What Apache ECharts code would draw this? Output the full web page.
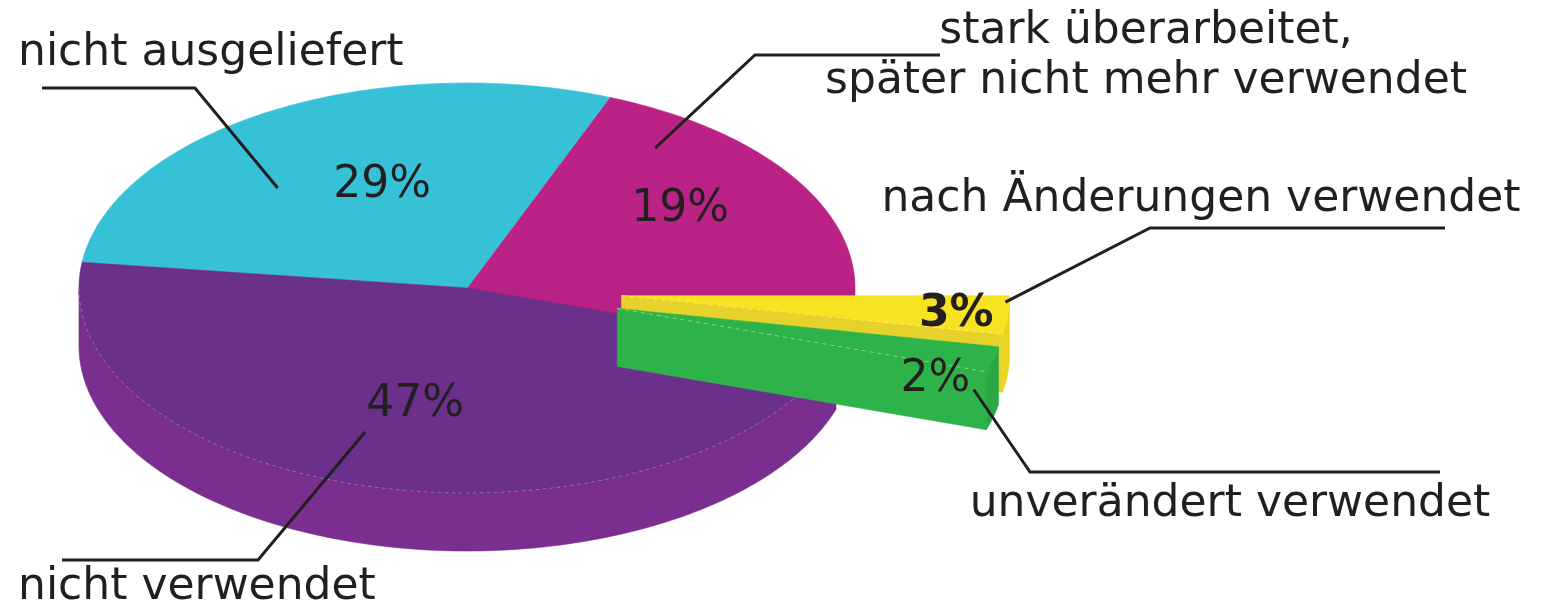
<!DOCTYPE html>
<html><head><meta charset="utf-8">
<script src="https://cdn.jsdelivr.net/npm/echarts@6/dist/echarts.min.js"></script>
<style>html,body{margin:0;padding:0;background:#fff}#c{width:1541px;height:609px}</style>
</head><body><div id="c"></div>
<script>
// ---- data ----
const categories = ['stark überarbeitet,\nspäter nicht mehr verwendet', 'nicht ausgeliefert', 'nicht verwendet', 'unverändert verwendet', 'nach Änderungen verwendet'];
const percentages = [19, 29, 47, 2, 3];
const explodedSlices = ['unverändert verwendet', 'nach Änderungen verwendet'];

// ---- layout / style ----
const PIE = { cx: 467, cy: 288, rx: 388, ry: 205, depth: 58, explode: 0.4, startAngle: 0 };
const COLORS = [
  { top: '#BB2286', side: '#A81E78', face: '#B82184' },
  { top: '#36C1D6', side: '#2FAFC3', face: '#2FAFC3' },
  { top: '#6B2F8C', side: '#792E90', face: '#5E2A7C' },
  { top: '#2DB34A', side: '#2AA845', face: '#2DB34A' },
  { top: '#F7E322', side: '#EDD51F', face: '#E6D22A' }
];
const LABELS = [
  { pct: [34.7, 0.668], anchor: [54.6, 0.837], line: [[755, 55], [940, 55]], text: [1146, 57], align: 'center' },
  { pct: [113.7, 0.544], anchor: [135, 0.69], line: [[195, 88], [42, 88]], text: [18, 54], align: 'left' },
  { pct: [256.8, 0.586], anchor: [249.5, 0.75], line: [[258, 560], [62, 560]], text: [18, 588], align: 'left' },
  { pct: [336.9, 0.891], anchor: [336.7, 1.0], line: [[1030, 472], [1440, 472]], text: [1230, 505], align: 'center' },
  { pct: [353.8, 0.868], anchor: [358.2, 0.99], line: [[1150, 228], [1445, 228]], text: [1201, 200], align: 'center', bold: true }
];
const FONT = '"DejaVu Sans", sans-serif';
const INK = '#231F20';

const total = percentages.reduce((a, b) => a + b, 0);
const starts = [];
(function () { let acc = 0; percentages.forEach(v => { starts.push(acc); acc += v; }); })();
const rad = d => d * Math.PI / 180;
const isExploded = k => explodedSlices.indexOf(categories[(k + categories.length) % categories.length]) >= 0;

function renderItem(params, api) {
  const i = params.dataIndex;
  const v = api.value(0);
  const a0 = PIE.startAngle + starts[i] / total * 360;
  const a1 = a0 + v / total * 360;
  const mid = (a0 + a1) / 2;
  const isEx = isExploded(i);
  const e = isEx ? PIE.explode : 0;
  const ox = e * PIE.rx * Math.cos(rad(mid));
  const oy = -e * PIE.ry * Math.sin(rad(mid));
  const P = (deg, r, dz) => [PIE.cx + ox + r * PIE.rx * Math.cos(rad(deg)), PIE.cy + oy - r * PIE.ry * Math.sin(rad(deg)) + (dz || 0)];
  const arc = (s, t, dz) => {
    const pts = []; const n = Math.max(2, Math.ceil(Math.abs(t - s)));
    for (let k = 0; k <= n; k++) pts.push(P(s + (t - s) * k / n, 1, dz));
    return pts;
  };
  const base = isEx ? 10 + Math.round(-Math.sin(rad(mid)) * 100) * 5 : 0;
  const c = COLORS[i];
  const children = [];
  // radial faces (only visible, and only where the neighbour is pulled away)
  [[a0, a0 - 90, i - 1], [a1, a1 + 90, i + 1]].forEach(([a, n, nb]) => {
    if (Math.sin(rad(n)) < -1e-6 && (isEx || isExploded(nb))) {
      children.push({ type: 'polygon', z2: base, shape: { points: [P(a, 0, 0), P(a, 1, 0), P(a, 1, PIE.depth), P(a, 0, PIE.depth)] },
        style: { fill: c.face, stroke: c.face, lineWidth: 0.6 } });
      if (isEx) {
        children.push({ type: 'polyline', z2: base + 3, shape: { points: [P(a, 0, 0), P(a, 1, 0)] },
          style: { stroke: 'rgba(255,255,190,0.45)', lineWidth: 1, lineDash: [4, 4], fill: null } });
      }
    }
  });
  // outer side wall (front half)
  const s = Math.max(a0, 180), en = Math.min(a1, 360);
  if (en > s) {
    children.push({ type: 'polygon', z2: base + 1, shape: { points: arc(s, en, 0).concat(arc(en, s, PIE.depth)) },
      style: { fill: c.side, stroke: c.side, lineWidth: 0.6 } });
    if (!isEx) {
      children.push({ type: 'polyline', z2: base + 3, shape: { points: arc(s, en, 0) },
        style: { stroke: 'rgba(255,255,255,0.28)', lineWidth: 1, lineDash: [3, 4], fill: null } });
    }
  }
  // top surface
  children.push({ type: 'polygon', z2: base + 2, shape: { points: [P(a0, 0, 0)].concat(arc(a0, a1, 0)) },
    style: { fill: c.top, stroke: c.top, lineWidth: 0.6 } });

  // labels
  const L = LABELS[i];
  const pp = P(L.pct[0], L.pct[1], 0);
  children.push({ type: 'text', z2: 200, style: { text: v + '%', x: pp[0], y: pp[1], fill: INK,
    font: (L.bold ? 'bold ' : '') + '44px ' + FONT, align: 'center', verticalAlign: 'middle' } });
  const an = P(L.anchor[0], L.anchor[1], 0);
  children.push({ type: 'polyline', z2: 200, shape: { points: [an].concat(L.line) },
    style: { stroke: INK, lineWidth: 3, fill: null, lineJoin: 'miter' } });
  children.push({ type: 'text', z2: 200, style: { text: categories[i], x: L.text[0], y: L.text[1], fill: INK,
    font: '44px ' + FONT, align: L.align, verticalAlign: 'middle', lineHeight: 50 } });

  return { type: 'group', children: children };
}

const chart = echarts.init(document.getElementById('c'), null, { renderer: 'canvas' });
chart.setOption({
  backgroundColor: '#ffffff',
  animation: false,
  series: [{
    type: 'custom',
    coordinateSystem: 'none',
    silent: true,
    renderItem: renderItem,
    data: percentages.map((v, i) => ({ name: categories[i], value: [v] }))
  }]
});
</script>
</body></html>
